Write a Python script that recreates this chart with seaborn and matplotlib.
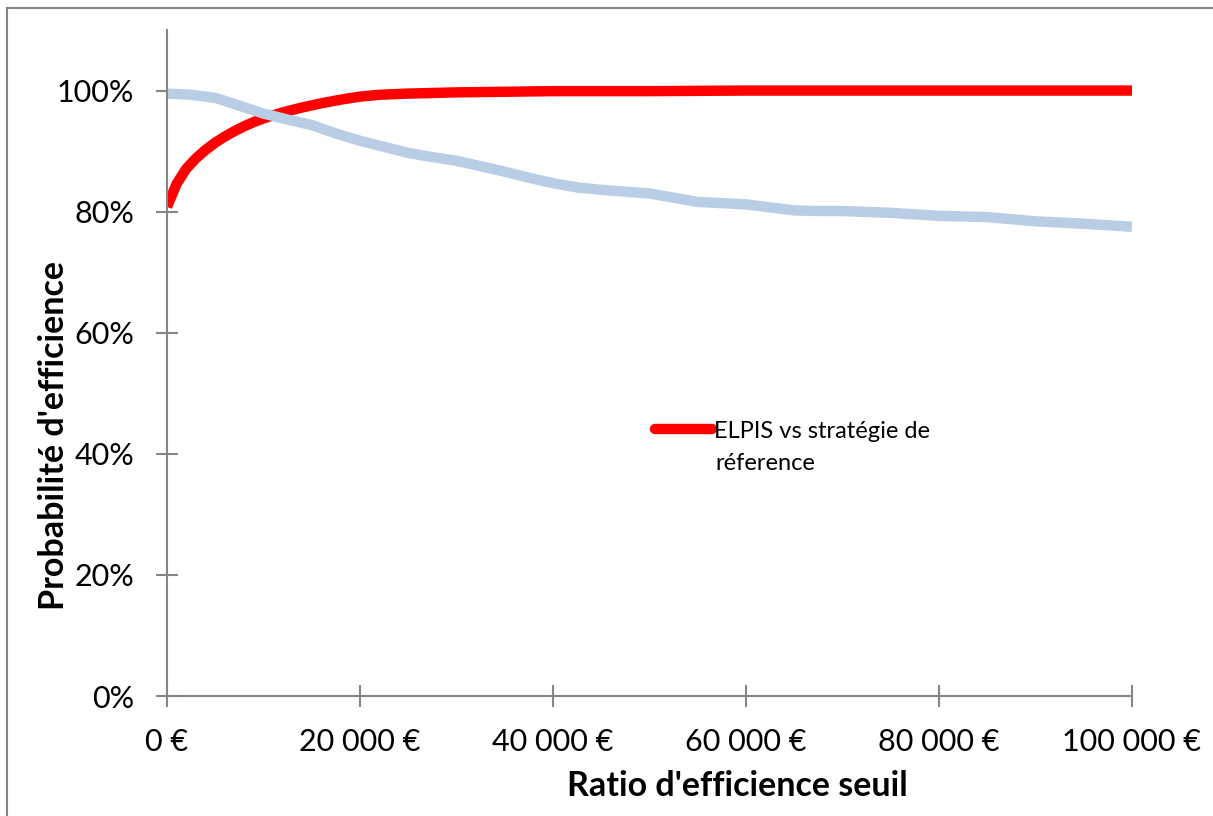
import numpy as np
import pandas as pd
import matplotlib
matplotlib.use("Agg")
import matplotlib.pyplot as plt
from matplotlib.patches import Rectangle
from matplotlib.ticker import FuncFormatter
import seaborn as sns

# ---- data ----
red_x = [0, 1000, 2000, 3000, 4000, 5000, 6000, 7000, 8000, 9000, 10000,
         12000, 14000, 16000, 18000, 20000, 22000, 25000, 30000, 40000,
         50000, 60000, 70000, 80000, 90000, 100000]
red_y = [0.808, 0.846, 0.871, 0.888, 0.902, 0.914, 0.924, 0.933, 0.941, 0.948, 0.954,
         0.964, 0.972, 0.979, 0.985, 0.990, 0.993, 0.995, 0.997, 0.999,
         0.999, 1.000, 1.000, 1.000, 1.000, 1.000]

blue_x = [0, 2500, 5000, 7500, 10000, 12500, 15000, 17500, 20000, 22500, 25000,
          27500, 30000, 32500, 35000, 37500, 40000, 42500, 45000, 47500, 50000,
          52500, 55000, 57500, 60000, 62500, 65000, 67500, 70000, 75000, 80000,
          85000, 90000, 95000, 100000]
blue_y = [0.995, 0.993, 0.988, 0.975, 0.962, 0.952, 0.943, 0.929, 0.917, 0.907, 0.897,
          0.890, 0.884, 0.875, 0.866, 0.856, 0.847, 0.840, 0.836, 0.833, 0.830,
          0.823, 0.816, 0.814, 0.812, 0.807, 0.802, 0.801, 0.801, 0.798, 0.793,
          0.791, 0.784, 0.780, 0.775]

red_label = "ELPIS vs stratégie de"
red_label_2 = "réference"
x_title = "Ratio d'efficience seuil"
y_title = "Probabilité d'efficience"
x_ticks = [0, 20000, 40000, 60000, 80000, 100000]
y_ticks = [0, 0.2, 0.4, 0.6, 0.8, 1.0]

df_red = pd.DataFrame({"x": red_x, "y": red_y})
df_blue = pd.DataFrame({"x": blue_x, "y": blue_y})

sns.set_theme(style="white")
plt.rcParams["font.family"] = ["Lato", "DejaVu Sans"]
plt.rcParams["text.color"] = "black"
plt.rcParams["axes.labelcolor"] = "black"

W, H = 1213, 816
fig = plt.figure(figsize=(W / 100, H / 100), dpi=100)
ax = fig.add_axes([167 / W, 1 - 696 / H, (1132 - 167) / W, (696 - 30) / H])

axis_grey = "#868686"
sns.lineplot(data=df_red, x="x", y="y", ax=ax, color="#FF0000", linewidth=7.5,
             label=red_label, solid_capstyle="butt", solid_joinstyle="round")
sns.lineplot(data=df_blue, x="x", y="y", ax=ax, color="#B9CDE5", linewidth=7.5,
             label="_nolegend_", solid_capstyle="butt", solid_joinstyle="round")

ax.set_xlim(0, 100000)
ax.set_ylim(0, 1.1)
ax.set_xticks(x_ticks)
ax.set_yticks(y_ticks)
ax.xaxis.set_major_formatter(FuncFormatter(lambda v, p: f"{v:,.0f}".replace(",", " ") + " €"))
ax.yaxis.set_major_formatter(FuncFormatter(lambda v, p: f"{v:.0%}"))

for s in ["top", "right"]:
    ax.spines[s].set_visible(False)
for s in ["left", "bottom"]:
    ax.spines[s].set_color(axis_grey)
    ax.spines[s].set_linewidth(1.5)

ax.tick_params(axis="both", which="major", bottom=True, left=True, direction="inout",
               length=15.5, width=1.5, color=axis_grey, labelsize=22, labelcolor="black")
ax.tick_params(axis="x", pad=15)
ax.tick_params(axis="y", pad=16)

ax.set_xlabel(x_title, fontsize=24.5, fontweight="bold", color="black")
ax.set_ylabel(y_title, fontsize=24.5, fontweight="bold", color="black")
ax.xaxis.set_label_coords((737 - 167) / 965, (696 - 770) / 666)
ax.yaxis.set_label_coords((70 - 167) / 965, 1 - (436 - 30) / 666)

leg = ax.legend(loc="center left", bbox_to_anchor=(655 / W, 1 - 431 / H),
                bbox_transform=fig.transFigure, frameon=False, borderpad=0,
                borderaxespad=0, handlelength=2.4, handletextpad=0.12,
                prop={"size": 17}, labelcolor="black")
for h in leg.legend_handles:
    h.set_solid_capstyle("round")
fig.text(715 / W, 1 - 463 / H, red_label_2, fontsize=17, va="center", ha="left", color="black")

fig.patches.append(Rectangle((7 / W, -0.1), 1.2, 1 - 8 / H + 0.1, transform=fig.transFigure,
                             fill=False, edgecolor=axis_grey, linewidth=1.5))

fig.savefig("out.png", dpi=100)
